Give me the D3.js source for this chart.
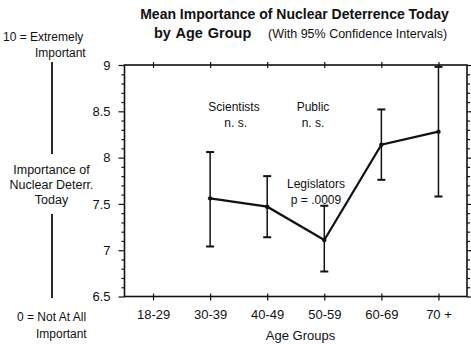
<!DOCTYPE html>
<html>
<head>
<meta charset="utf-8">
<script src="https://cdn.jsdelivr.net/npm/d3@7/dist/d3.min.js"></script>
<style>
  html, body { margin: 0; padding: 0; background: #fff; }
  svg { display: block; font-family: "Liberation Sans", Arial, Helvetica, sans-serif; }
</style>
</head>
<body>
<svg id="chart" width="471" height="344"></svg>
<script>
// Age groups along the x axis
const ageGroups = ["18-29", "30-39", "40-49", "50-59", "60-69", "70 +"];
// Mean importance for legislators (null where no value is plotted)
const meanValues = [null, 7.56, 7.47, 7.11, 8.14, 8.28];
// 95% confidence interval bounds
const ciLow  = [null, 7.04, 7.14, 6.77, 7.76, 7.58];
const ciHigh = [null, 8.06, 7.80, 7.48, 8.52, 8.98];
// Y axis ticks
const yMajorTicks = [6.5, 7, 7.5, 8, 8.5, 9];
const yDomain = [6.5, 9];

const svg = d3.select("#chart");
const M = { left: 124.5, right: 467, top: 65, bottom: 296.5 };

const x = d3.scalePoint().domain(ageGroups).range([M.left, M.right]).padding(0.5);
const y = d3.scaleLinear().domain(yDomain).range([M.bottom, M.top]);

const ink = "#111";
const minorTicks = d3.range(65, 91).map(v => v / 10).filter(v => !yMajorTicks.some(m => Math.abs(m - v) < 1e-9));

// Left axis: major ticks with labels
const gLeft = svg.append("g").attr("transform", `translate(${M.left},0)`)
  .call(d3.axisLeft(y).tickValues(yMajorTicks).tickSize(6).tickPadding(8).tickFormat(d3.format("")));
gLeft.select(".domain").remove();
gLeft.selectAll("line").attr("stroke", ink).attr("stroke-width", 1.2);
gLeft.selectAll("text").attr("font-size", 13).attr("fill", ink).attr("font-family", "Liberation Sans, Arial, sans-serif");
// Left axis minor ticks
const gLeftMinor = svg.append("g").attr("transform", `translate(${M.left},0)`)
  .call(d3.axisLeft(y).tickValues(minorTicks).tickSize(3).tickFormat(""));
gLeftMinor.select(".domain").remove();
gLeftMinor.selectAll("line").attr("stroke", ink).attr("stroke-width", 1.2);

// Right axis: ticks pointing outward, no labels
const gRight = svg.append("g").attr("transform", `translate(${M.right},0)`)
  .call(d3.axisRight(y).tickValues(yMajorTicks).tickSize(5).tickFormat(""));
gRight.select(".domain").remove();
gRight.selectAll("line").attr("stroke", ink).attr("stroke-width", 1.2);
const gRightMinor = svg.append("g").attr("transform", `translate(${M.right},0)`)
  .call(d3.axisRight(y).tickValues(minorTicks).tickSize(3).tickFormat(""));
gRightMinor.select(".domain").remove();
gRightMinor.selectAll("line").attr("stroke", ink).attr("stroke-width", 1.2);

// Bottom axis: category labels, small crossing ticks
const gBottom = svg.append("g").attr("transform", `translate(0,${M.bottom})`)
  .call(d3.axisBottom(x).tickSize(4).tickPadding(9));
gBottom.select(".domain").remove();
gBottom.selectAll("line").attr("stroke", ink).attr("stroke-width", 1.2).attr("y1", -3);
gBottom.selectAll("text").attr("font-size", 13).attr("fill", ink).attr("font-family", "Liberation Sans, Arial, sans-serif");

// Top axis: crossing ticks only
const gTop = svg.append("g").attr("transform", `translate(0,${M.top})`)
  .call(d3.axisTop(x).tickSize(3).tickFormat(""));
gTop.select(".domain").remove();
gTop.selectAll("line").attr("stroke", ink).attr("stroke-width", 1.2).attr("y1", 3);

// Plot frame
svg.append("rect")
  .attr("x", M.left).attr("y", M.top)
  .attr("width", M.right - M.left).attr("height", M.bottom - M.top)
  .attr("fill", "none").attr("stroke", ink).attr("stroke-width", 1.6);

// Confidence interval bars
const rows = ageGroups.map((g, i) => ({ g, m: meanValues[i], lo: ciLow[i], hi: ciHigh[i] })).filter(d => d.m != null);
const cap = 4;
const gErr = svg.append("g").attr("stroke", ink).attr("stroke-width", 1.5).attr("fill", "none");
rows.forEach(d => {
  const cx = x(d.g);
  gErr.append("line").attr("x1", cx).attr("x2", cx).attr("y1", y(d.lo)).attr("y2", y(d.hi));
  gErr.append("line").attr("x1", cx - cap).attr("x2", cx + cap).attr("y1", y(d.lo)).attr("y2", y(d.lo)).attr("stroke-width", 2);
  gErr.append("line").attr("x1", cx - cap).attr("x2", cx + cap).attr("y1", y(d.hi)).attr("y2", y(d.hi)).attr("stroke-width", 2);
});

// Mean line with points
svg.append("path")
  .datum(rows)
  .attr("fill", "none").attr("stroke", ink).attr("stroke-width", 2.2)
  .attr("d", d3.line().x(d => x(d.g)).y(d => y(d.m)));
svg.append("g").selectAll("circle").data(rows).join("circle")
  .attr("cx", d => x(d.g)).attr("cy", d => y(d.m)).attr("r", 2.2).attr("fill", ink);

// Title
svg.append("text").attr("x", 294.5).attr("y", 19).attr("text-anchor", "middle")
  .attr("font-size", 14).attr("font-weight", "bold").attr("fill", ink)
  .text("Mean Importance of Nuclear Deterrence Today");
svg.append("text").attr("x", 154).attr("y", 38)
  .attr("font-size", 14.5).attr("font-weight", "bold").attr("word-spacing", 1).attr("fill", ink)
  .text("by Age Group");
svg.append("text").attr("x", 268).attr("y", 38)
  .attr("font-size", 12.5).attr("fill", ink)
  .text("(With 95% Confidence Intervals)");

// Annotations inside the plot
function note(lines, cx, y0, dy) {
  const t = svg.append("text").attr("text-anchor", "middle").attr("font-size", 12).attr("fill", ink);
  lines.forEach((s, i) => t.append("tspan").attr("x", cx).attr("y", y0 + i * dy).text(s));
}
note(["Scientists", "\u00a0n. s."], 234, 111, 16);
note(["Public", "n. s."], 313, 111, 16);
note(["Legislators", "p = .0009"], 316, 188, 16);

// X axis title
svg.append("text").attr("x", 300.5).attr("y", 340).attr("text-anchor", "middle")
  .attr("font-size", 13).attr("fill", ink).text("Age Groups");

// Y axis description on the left
const yl = svg.append("g").attr("fill", ink).attr("font-size", 12);
yl.append("text").attr("x", 3).attr("y", 41).text("10 = Extremely");
yl.append("text").attr("x", 35).attr("y", 57).text("Important");
yl.append("line").attr("x1", 52).attr("x2", 52).attr("y1", 62).attr("y2", 154).attr("stroke", ink).attr("stroke-width", 1.8);
const yt = yl.append("text").attr("text-anchor", "middle").attr("font-size", 12.5);
[["Importance of", 174], ["Nuclear Deterr.", 189], ["Today", 204]].forEach(([s, yy]) =>
  yt.append("tspan").attr("x", 51.5).attr("y", yy).text(s));
yl.append("line").attr("x1", 52).attr("x2", 52).attr("y1", 214).attr("y2", 298).attr("stroke", ink).attr("stroke-width", 1.8);
yl.append("text").attr("x", 17).attr("y", 321).text("0 = Not At All");
yl.append("text").attr("x", 36).attr("y", 338).text("Important");
</script>
</body>
</html>
